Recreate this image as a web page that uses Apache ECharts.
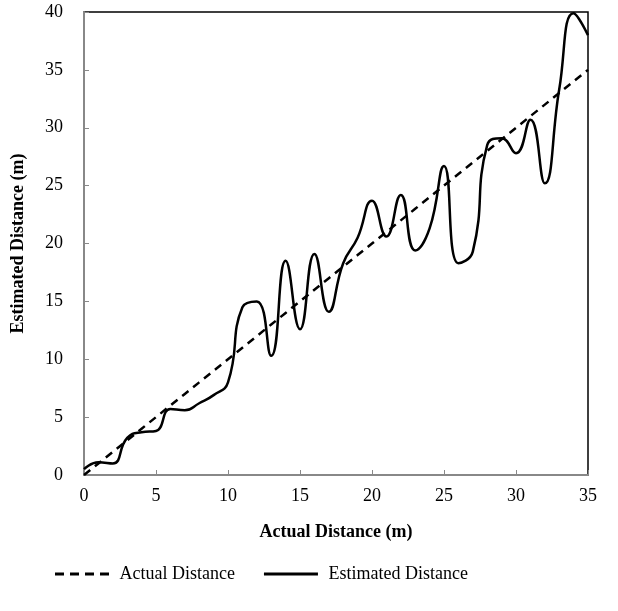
<!DOCTYPE html>
<html>
<head>
<meta charset="utf-8">
<script src="https://cdn.jsdelivr.net/npm/echarts@6/dist/echarts.min.js"></script>
<style>
  html, body { margin: 0; padding: 0; background: #fff; }
  #chart { width: 618px; height: 611px; }
</style>
</head>
<body>
<div id="chart"></div>
<script>
// actual distance (m), one reading per metre
var actualDist = [0, 1, 2, 3, 4, 5, 6, 7, 8, 9, 10, 11, 12, 13, 14, 15, 16, 17,
  18, 19, 20, 21, 22, 23, 24, 25, 26, 27, 28, 29, 30, 31, 32, 33, 34, 35];
// estimated distance (m)
var estDist = [0.5, 1.1, 1.0, 3.2, 3.7, 3.8, 5.7, 5.6, 6.2, 6.9, 8.0, 14.5, 15.0,
  10.3, 18.5, 12.6, 19.1, 14.1, 18.3, 20.5, 23.7, 20.6, 24.2, 19.4, 21.3, 26.7,
  18.3, 19.3, 28.5, 29.1, 27.8, 30.7, 25.2, 33.3, 39.9, 38.0];

var font = '"Liberation Serif", "Times New Roman", serif';

var actualData = actualDist.map(function (x) { return [x, x]; });
var estData = actualDist.map(function (x, i) { return [x, estDist[i]]; });

var dashIcon = 'path://M0,0h9v3h-9z M15,0h9v3h-9z M30,0h9v3h-9z M45,0h9v3h-9z';
var solidIcon = 'path://M0,0h54v3h-54z';

var chart = echarts.init(document.getElementById('chart'));
chart.setOption({
  animation: false,
  grid: {
    left: 84, right: 30, top: 12, bottom: 136,
    show: true,
    borderColor: '#000',
    borderWidth: 1.5
  },
  legend: {
    left: 50, top: 560,
    itemWidth: 57, itemHeight: 3,
    itemGap: 29,
    textStyle: { fontFamily: font, fontSize: 18, color: '#000', padding: [0, 0, 0, 4] },
    data: [
      { name: 'Actual Distance', icon: dashIcon },
      { name: 'Estimated Distance', icon: solidIcon }
    ]
  },
  xAxis: {
    type: 'value',
    min: 0, max: 35, interval: 5,
    name: 'Actual Distance (m)',
    nameLocation: 'middle',
    nameGap: 48,
    nameTextStyle: { fontFamily: font, fontSize: 18, fontWeight: 'bold', color: '#000' },
    axisLine: { lineStyle: { color: '#888', width: 2 } },
    axisTick: { inside: true, length: 5, lineStyle: { color: '#888' } },
    axisLabel: { fontFamily: font, fontSize: 18, color: '#000', margin: 12 },
    splitLine: { show: false }
  },
  yAxis: {
    type: 'value',
    min: 0, max: 40, interval: 5,
    name: 'Estimated Distance (m)',
    nameLocation: 'middle',
    nameGap: 57,
    nameTextStyle: { fontFamily: font, fontSize: 18, fontWeight: 'bold', color: '#000' },
    axisLine: { show: true, lineStyle: { color: '#888', width: 2 } },
    axisTick: { show: true, inside: true, length: 5, lineStyle: { color: '#888' } },
    axisLabel: { fontFamily: font, fontSize: 18, color: '#000', margin: 21 },
    splitLine: { show: false }
  },
  series: [
    {
      name: 'Actual Distance',
      type: 'line',
      data: actualData,
      symbol: 'none',
      itemStyle: { color: '#000' },
      lineStyle: { color: '#000', width: 2.5, type: [8, 6] }
    },
    {
      name: 'Estimated Distance',
      type: 'line',
      data: estData,
      symbol: 'none',
      smooth: 0.5,
      itemStyle: { color: '#000' },
      lineStyle: { color: '#000', width: 2.5 }
    }
  ]
});
</script>
</body>
</html>
